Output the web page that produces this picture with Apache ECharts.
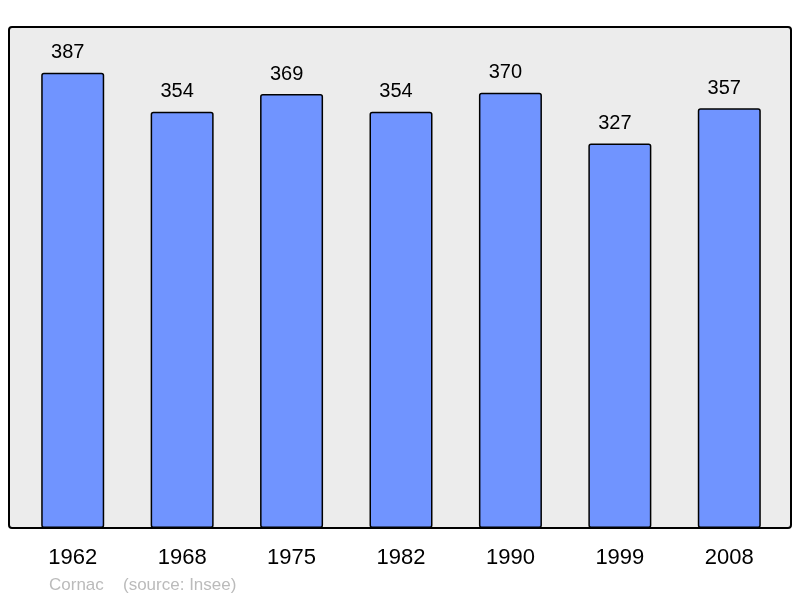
<!DOCTYPE html>
<html>
<head>
<meta charset="utf-8">
<script src="https://cdn.jsdelivr.net/npm/echarts@6/dist/echarts.min.js"></script>
<style>
  html, body { margin: 0; padding: 0; background: #fff; }
  #main { width: 800px; height: 598px; }
</style>
</head>
<body>
<div id="main"></div>
<script>
var years = ['1962', '1968', '1975', '1982', '1990', '1999', '2008'];
var population = [387, 354, 369, 354, 370, 327, 357];

var myChart = echarts.init(document.getElementById('main'));
var option = {
    animation: false,
    textStyle: { fontFamily: 'Liberation Sans' },
    graphic: [
        {
            type: 'rect',
            z: -10,
            shape: { x: 9, y: 27, width: 782, height: 501, r: 3 },
            style: { fill: '#ececec', stroke: '#000', lineWidth: 2 }
        },
        {
            type: 'text',
            left: 49,
            top: 577,
            style: { text: 'Cornac', fill: '#bbbbbb', font: '17px "Liberation Sans"' }
        },
        {
            type: 'text',
            left: 123,
            top: 577,
            style: { text: '(source: Insee)', fill: '#bbbbbb', font: '17px "Liberation Sans"' }
        }
    ],
    grid: { left: 18, right: 16, top: 27, bottom: 70 },
    xAxis: {
        type: 'category',
        data: years,
        axisLine: { show: false },
        axisTick: { show: false },
        axisLabel: { color: '#000', fontSize: 22, margin: 19 }
    },
    yAxis: {
        type: 'value',
        min: 0,
        max: 426,
        show: false,
        splitLine: { show: false }
    },
    series: [
        {
            type: 'bar',
            data: population,
            barWidth: 63,
            itemStyle: {
                color: '#7094ff',
                borderColor: '#000',
                borderWidth: 1.5,
                borderRadius: 2
            },
            label: {
                show: true,
                position: 'top',
                distance: 10,
                offset: [-5, 0],
                color: '#000',
                fontSize: 20
            }
        }
    ]
};
myChart.setOption(option);
</script>
</body>
</html>
